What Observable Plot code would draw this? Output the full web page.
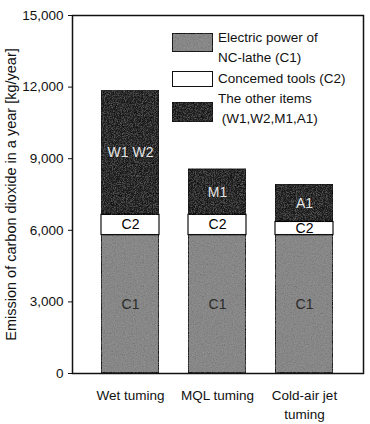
<!DOCTYPE html>
<html><head><meta charset="utf-8">
<script src="https://cdn.jsdelivr.net/npm/d3@7"></script>
<script src="https://cdn.jsdelivr.net/npm/@observablehq/plot@0.6"></script>
<style>
body{margin:0;background:#fff;font-family:"Liberation Sans",Arial,sans-serif;}
#wrap{position:relative;width:370px;height:424px;}
.leg{position:absolute;font-size:13.5px;color:#111;line-height:20px;white-space:nowrap;}
.sw{position:absolute;border:1px solid #111;box-sizing:border-box;}
</style></head><body>
<div id="wrap"></div>
<script>
const methods = ["Wet tuming", "MQL tuming", "Cold-air jet\ntuming"];
const series = ["C1", "C2", "Other"];
const c1Values = [5800, 5800, 5800];
const c2Values = [850, 850, 550];
const otherValues = [5200, 1900, 1550];
const otherLabels = ["W1 W2", "M1", "A1"];
const yTicks = [0, 3000, 6000, 9000, 12000, 15000];
const legendLabels = ["Electric power of<br>NC-lathe (C1)", "Concemed tools (C2)", "The other items<br>&nbsp;(W1,W2,M1,A1)"];

const data = [];
methods.forEach((m, i) => {
  data.push({method: m, series: "C1", value: c1Values[i], label: "C1"});
  data.push({method: m, series: "C2", value: c2Values[i], label: "C2"});
  data.push({method: m, series: "Other", value: otherValues[i], label: otherLabels[i]});
});
const fills = {C1: "#888888", C2: "#ffffff", Other: "#3c3c3c"};
const textFills = {C1: "#2a2a2a", C2: "#000", Other: "#e6e6e6"};

const chart = Plot.plot({
  width: 370, height: 424,
  marginLeft: 72, marginRight: 7, marginTop: 15, marginBottom: 51,
  style: {fontFamily: "Liberation Sans, Arial, sans-serif", fontSize: "14px", color: "#111", background: "#fff"},
  x: {domain: methods, padding: 0.33},
  y: {domain: [0, 15000]},
  marks: [
    Plot.rectY(data, Plot.stackY({x: "method", y: "value", z: "series", order: series,
      fill: d => fills[d.series], stroke: "#111", strokeWidth: 1.2})),
    Plot.text(data, Plot.stackY({x: "method", y: "value", z: "series", order: series, text: "label",
      fill: d => textFills[d.series], fontSize: 14})),
    Plot.axisX({tickSize: 0, tickPadding: 14, lineHeight: 1.35, fontSize: 13.5, label: null}),
    Plot.axisY({ticks: yTicks, tickFormat: d3.format(","), tickSize: 4, tickPadding: 5, fontSize: 13.5,
      label: null}),
    Plot.axisY({ticks: [], tickSize: 0, label: "Emission of carbon dioxide in a year [kg/year]",
      labelAnchor: "center", labelOffset: 67, labelArrow: "none", fontSize: 14.5}),
    Plot.frame({stroke: "#111", strokeWidth: 1.5})
  ]
});
const wrap = document.getElementById("wrap");
wrap.appendChild(chart);

// noise texture on bars
const svgNS = "http://www.w3.org/2000/svg";
const defs = document.createElementNS(svgNS, "defs");
defs.innerHTML = `<filter id="grain" x="0" y="0" width="1" height="1">
  <feTurbulence type="fractalNoise" baseFrequency="0.9" numOctaves="2" seed="3" result="t"/>
  <feColorMatrix in="t" type="saturate" values="0" result="g"/>
  <feComposite in="g" in2="SourceGraphic" operator="arithmetic" k1="0" k2="0.35" k3="0.85" k4="-0.12" result="m"/>
  <feComposite in="m" in2="SourceGraphic" operator="in"/>
</filter>`;
chart.insertBefore(defs, chart.firstChild);
chart.querySelectorAll("g[aria-label='rect'] rect").forEach((r) => {
  if (r.getAttribute("fill") !== "#ffffff") r.setAttribute("filter", "url(#grain)");
});

// legend
const leg = [
  {fill: "#888888", top: 33, h: 19, ty: 28},
  {fill: "#ffffff", top: 71, h: 16, ty: 69},
  {fill: "#3c3c3c", top: 102, h: 20, ty: 89}
];
leg.forEach((l, i) => {
  const s = document.createElement("div");
  s.className = "sw";
  s.style.cssText = `left:172px;top:${l.top}px;width:41px;height:${l.h}px;background:${l.fill};`;
  if (i !== 1) s.style.filter = "url(#grain)";
  wrap.appendChild(s);
  const t = document.createElement("div");
  t.className = "leg";
  t.style.cssText = `left:218px;top:${l.ty}px;`;
  t.innerHTML = legendLabels[i];
  wrap.appendChild(t);
});
</script>
</body></html>
